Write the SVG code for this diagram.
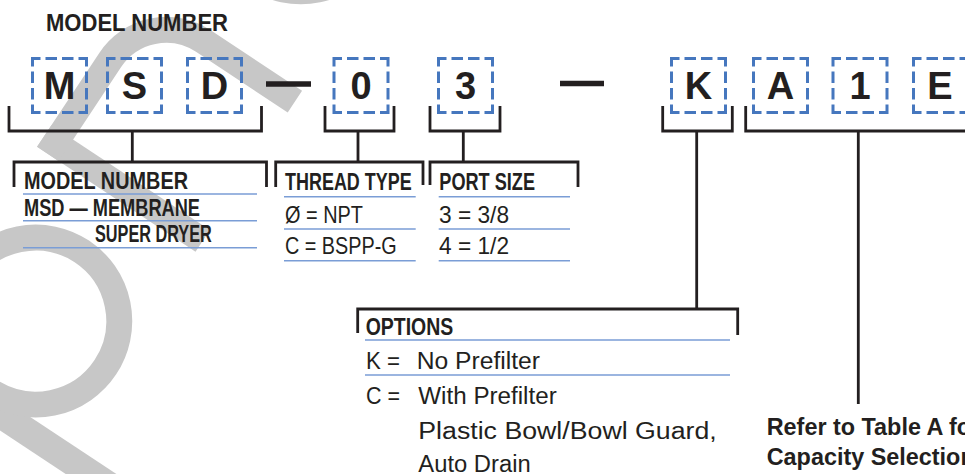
<svg xmlns="http://www.w3.org/2000/svg" width="965" height="474" viewBox="0 0 965 474">
<style>
.wm{fill:none;stroke:#c7c7c7;stroke-width:26}
.bx{fill:none;stroke:#4677be;stroke-width:3;stroke-dasharray:16 5 11.5 5 11.5 5;stroke-dashoffset:8}
.ch{font-family:"Liberation Sans",Arial,sans-serif;font-weight:bold;font-size:38px;fill:#231f20;text-anchor:middle}
.br{fill:none;stroke:#231f20;stroke-width:2.8}
.dash{stroke:#231f20;stroke-width:5.5}
.rule{stroke:#7a9dd6;stroke-width:1.6}
.hd{font-family:"Liberation Sans",Arial,sans-serif;font-weight:bold;font-size:23px;fill:#231f20}
.tx{font-family:"Liberation Sans",Arial,sans-serif;font-size:24px;fill:#231f20}
.op{font-family:"Liberation Sans",Arial,sans-serif;font-size:23px;fill:#231f20}
.nt{font-family:"Liberation Sans",Arial,sans-serif;font-weight:bold;font-size:23.4px;fill:#231f20}
</style>

<g id="watermark" transform="rotate(-56.5)">
  <line class="wm" x1="-345" y1="112" x2="-345" y2="440" style="stroke-width:28"/>
  <circle class="wm" cx="-248" cy="207" r="83.5"/>
  <path class="wm" d="M-89,112 V302"/>
  <path class="wm" d="M-102,125 H11 A67,67 0 0 1 78,192 V302"/>
  <circle class="wm" cx="243" cy="200" r="83.5"/>
</g>

<g id="connectors">
  <path class="br" d="M9,106 V131 H261.5 V106 M132.3,131 V162"/>
  <path class="br" d="M14,187 V162 H266.5 V187"/>
  <path class="br" d="M325,106 V131 H394 V106 M358,131 V162"/>
  <path class="br" d="M275.7,187 V162 H423 V185"/>
  <path class="br" d="M430,106 V131 H500 V106 M463.3,131 V162"/>
  <path class="br" d="M430,185 V162 H578 V187"/>
  <path class="br" d="M662.7,106 V131 H732.3 V106 M696.7,131 V309"/>
  <path class="br" d="M357.7,333 V309 H737.7 V335"/>
  <path class="br" d="M745.7,106 V131 H970 M858.3,131 V404"/>
</g>

<g id="title">
  <text class="hd" x="46" y="30.5" font-size="24" textLength="182" lengthAdjust="spacingAndGlyphs">MODEL NUMBER</text>
</g>

<g id="box-M"><rect class="bx" x="32.5" y="58.5" width="54" height="54"/><text class="ch" x="59.5" y="99">M</text></g>
<g id="box-S"><rect class="bx" x="107.5" y="58.5" width="54" height="54"/><text class="ch" x="134.5" y="99">S</text></g>
<g id="box-D"><rect class="bx" x="187.5" y="58.5" width="54" height="54"/><text class="ch" x="214.5" y="99">D</text></g>
<g id="dash-1"><line class="dash" x1="266" y1="84" x2="311" y2="84"/></g>
<g id="box-0"><rect class="bx" x="334" y="58.5" width="54" height="54"/><text class="ch" x="361" y="99">0</text></g>
<g id="box-3"><rect class="bx" x="438.5" y="58.5" width="54" height="54"/><text class="ch" x="465.5" y="99">3</text></g>
<g id="dash-2"><line class="dash" x1="560" y1="83.5" x2="604" y2="83.5"/></g>
<g id="box-K"><rect class="bx" x="671.5" y="58.5" width="54" height="54"/><text class="ch" x="698.5" y="99">K</text></g>
<g id="box-A"><rect class="bx" x="753.5" y="58.5" width="54" height="54"/><text class="ch" x="780.5" y="99">A</text></g>
<g id="box-1"><rect class="bx" x="833" y="58.5" width="54" height="54"/><text class="ch" x="860" y="99">1</text></g>
<g id="box-E"><rect class="bx" x="913.5" y="58.5" width="54" height="54"/><text class="ch" x="940" y="99">E</text></g>

<g id="model-number-table">
  <text class="hd" x="24" y="189" textLength="164" lengthAdjust="spacingAndGlyphs">MODEL NUMBER</text>
  <line class="rule" x1="23" y1="194" x2="257" y2="194"/>
  <text class="hd" x="24" y="215.5" textLength="176" lengthAdjust="spacingAndGlyphs">MSD — MEMBRANE</text>
  <line class="rule" x1="23" y1="220.7" x2="257" y2="220.7"/>
  <text class="hd" x="95" y="241.7" textLength="116.7" lengthAdjust="spacingAndGlyphs">SUPER DRYER</text>
  <line class="rule" x1="23" y1="247.7" x2="257" y2="247.7"/>
</g>

<g id="thread-type-table">
  <text class="hd" x="285" y="190" textLength="126.7" lengthAdjust="spacingAndGlyphs">THREAD TYPE</text>
  <line class="rule" x1="284" y1="196.7" x2="415.7" y2="196.7"/>
  <text class="tx" x="285" y="222.7" textLength="78" lengthAdjust="spacingAndGlyphs">Ø = NPT</text>
  <line class="rule" x1="284" y1="229" x2="415.7" y2="229"/>
  <text class="tx" x="285" y="254.3" textLength="111.7" lengthAdjust="spacingAndGlyphs">C = BSPP-G</text>
  <line class="rule" x1="284" y1="260.7" x2="415.7" y2="260.7"/>
</g>

<g id="port-size-table">
  <text class="hd" x="439.3" y="190" textLength="95.7" lengthAdjust="spacingAndGlyphs">PORT SIZE</text>
  <line class="rule" x1="438.7" y1="196.7" x2="570" y2="196.7"/>
  <text class="tx" x="439" y="222.7" textLength="70" lengthAdjust="spacingAndGlyphs">3 = 3/8</text>
  <line class="rule" x1="438.7" y1="229" x2="570" y2="229"/>
  <text class="tx" x="439" y="254.3" textLength="70" lengthAdjust="spacingAndGlyphs">4 = 1/2</text>
  <line class="rule" x1="438.7" y1="260.7" x2="570" y2="260.7"/>
</g>

<g id="options-table">
  <text class="hd" x="365.7" y="335" font-size="24" textLength="87.6" lengthAdjust="spacingAndGlyphs">OPTIONS</text>
  <line class="rule" x1="365" y1="340" x2="730" y2="340"/>
  <text class="op" x="366" y="369.3" textLength="34" lengthAdjust="spacingAndGlyphs">K =</text>
  <text class="op" x="416.7" y="369.3" textLength="123.3" lengthAdjust="spacingAndGlyphs">No Prefilter</text>
  <line class="rule" x1="365" y1="375" x2="730" y2="375"/>
  <text class="op" x="366" y="404.3" textLength="34" lengthAdjust="spacingAndGlyphs">C =</text>
  <text class="op" x="418.3" y="404.3" textLength="138.4" lengthAdjust="spacingAndGlyphs">With Prefilter</text>
  <text class="op" x="418.3" y="438.5" textLength="298.4" lengthAdjust="spacingAndGlyphs">Plastic Bowl/Bowl Guard,</text>
  <text class="op" x="418.3" y="471.5" textLength="112.4" lengthAdjust="spacingAndGlyphs">Auto Drain</text>
</g>

<g id="capacity-note">
  <text class="nt" x="766.7" y="435">Refer to Table A for</text>
  <text class="nt" x="766.7" y="465">Capacity Selection</text>
</g>
</svg>
